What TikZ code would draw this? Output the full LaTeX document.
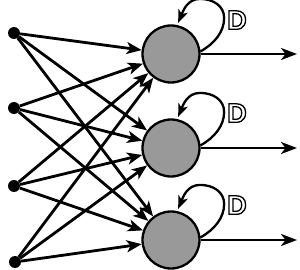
\documentclass[tikz,border=0pt]{standalone}
\usepackage{fontspec}
\newfontfamily\dfont{Liberation Sans}
\usetikzlibrary{arrows.meta}
\tikzset{
  inp/.style={circle,fill=black,inner sep=0pt,minimum size=12pt},
  neuron/.style={circle,draw=black,line width=2.3pt,fill=black!40,inner sep=0pt,minimum size=57pt},
  conn/.style={line width=2.8pt,-{Stealth[length=15pt,width=12pt,inset=4pt]}},
  outarr/.style={line width=2.4pt,-{Stealth[length=16pt,width=12pt,inset=4.5pt]}},
  loopar/.style={line width=2.3pt,-{Stealth[length=13pt,width=10pt,inset=3.5pt]}},
  dlab/.style={inner sep=0pt,font=\dfont\bfseries\fontsize{27}{27}\selectfont}
}
\newcommand{\hollow}[1]{\special{pdf:literal direct 1 Tr 1.3 w}#1\special{pdf:literal direct 0 Tr}}
\begin{document}
\begin{tikzpicture}[x=1pt,y=-1pt]
\useasboundingbox (0,0) rectangle (300,270);
\node[inp] (i1) at (14,33) {};
\node[inp] (i2) at (14,108) {};
\node[inp] (i3) at (14,186) {};
\node[inp] (i4) at (15,262) {};
\node[neuron] (n1) at (171,54) {};
\node[neuron] (n2) at (171,148) {};
\node[neuron] (n3) at (171,240) {};
\coordinate (o1) at (297,54);
\coordinate (o2) at (297,148);
\coordinate (o3) at (297,240);
\foreach \i in {1,2,3,4}{
  \foreach \n in {1,2,3}{
    \draw[conn] (i\i) -- (n\n);
  }
}
\foreach \n in {1,2,3}{
  \draw[outarr] (n\n.east) -- (o\n);
  \draw[loopar] (n\n.5) .. controls +(14,-8) and +(0,14) .. ++(23.6,-33.5)
     .. controls +(0,-12) and +(13,0) .. ++(-24,-19)
     .. controls +(-13,0) and +(5,-12) .. ++(-22,24);
}
\node[dlab] (d1) at (237,20) {\hollow{D}};
\node[dlab] (d2) at (237,113) {\hollow{D}};
\node[dlab] (d3) at (237,205) {\hollow{D}};
\end{tikzpicture}
\end{document}
